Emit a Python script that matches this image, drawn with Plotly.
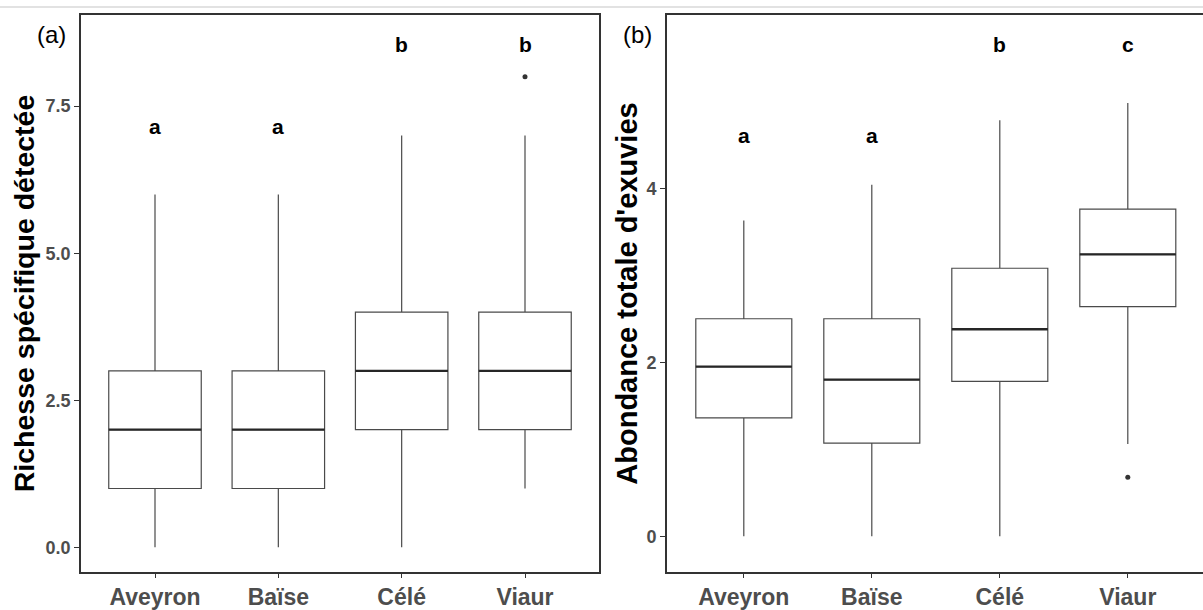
import plotly.graph_objects as go

# ---------------- data ----------------
categories = ["Aveyron", "Baïse", "Célé", "Viaur"]

# Panel (a): Richesse spécifique détectée
a_low = [0, 0, 0, 1]
a_q1 = [1, 1, 2, 2]
a_med = [2, 2, 3, 3]
a_q3 = [3, 3, 4, 4]
a_high = [6, 6, 7, 7]
a_out_cat = ["Viaur"]
a_out_val = [8.0]
a_letters = ["a", "a", "b", "b"]
a_letter_y = [7.15, 7.15, 8.55, 8.55]

# Panel (b): Abondance totale d'exuvies
b_low = [0, 0, 0, 1.06]
b_q1 = [1.36, 1.07, 1.78, 2.64]
b_med = [1.95, 1.80, 2.38, 3.24]
b_q3 = [2.50, 2.50, 3.08, 3.76]
b_high = [3.63, 4.04, 4.78, 4.98]
b_out_cat = ["Viaur"]
b_out_val = [0.68]
b_letters = ["a", "a", "b", "c"]
b_letter_y = [4.6, 4.6, 5.65, 5.65]

a_ticks = [0, 2.5, 5.0, 7.5]
b_ticks = [0, 2, 4]

# ---------------- style ----------------
FONT = "Liberation Sans, Arial, sans-serif"
BOX_W = 0.75
LINE_C = "#4a4a4a"
MED_C = "#262626"
AX_C = "#333333"
TICK_C = "#4d4d4d"

pos = [i + 1 for i in range(len(categories))]
cat_pos = dict(zip(categories, pos))

W, H = 1203, 610
ML, MR, MT, MB = 0, 0, 15, 32
PH = H - MT - MB
PW = W - ML - MR


def px_x(v):
    return (v - ML) / PW


def px_y(v):
    return (H - MB - v) / PH


fig = go.Figure()


def add_panel(xa, ya, low, q1, med, q3, high, out_cat, out_val):
    fig.add_trace(go.Box(
        x=pos, q1=q1, median=med, q3=q3, lowerfence=low, upperfence=high,
        width=BOX_W, whiskerwidth=0, fillcolor="white",
        line=dict(color=LINE_C, width=1.2), boxpoints=False,
        xaxis=xa, yaxis=ya, showlegend=False, hoverinfo="skip"))
    mx, my = [], []
    for p, m in zip(pos, med):
        mx += [p - BOX_W / 2, p + BOX_W / 2, None]
        my += [m, m, None]
    fig.add_trace(go.Scatter(x=mx, y=my, mode="lines",
                             line=dict(color=MED_C, width=2.4),
                             xaxis=xa, yaxis=ya, showlegend=False,
                             hoverinfo="skip"))
    fig.add_trace(go.Scatter(x=[cat_pos[c] for c in out_cat], y=out_val,
                             mode="markers",
                             marker=dict(color="#333333", size=5),
                             xaxis=xa, yaxis=ya, showlegend=False,
                             hoverinfo="skip"))


add_panel("x", "y", a_low, a_q1, a_med, a_q3, a_high, a_out_cat, a_out_val)
add_panel("x2", "y2", b_low, b_q1, b_med, b_q3, b_high, b_out_cat, b_out_val)

# significance letters
for xref, yref, letters, ly in (("x", "y", a_letters, a_letter_y),
                                ("x2", "y2", b_letters, b_letter_y)):
    for p, t, yv in zip(pos, letters, ly):
        fig.add_annotation(x=p, y=yv, xref=xref, yref=yref, text=t,
                           showarrow=False, xanchor="center", yanchor="middle",
                           font=dict(family=FONT, size=21, color="black",
                                     weight="bold"))

# panel tags
for tag, tx, ty in (("(a)", 51, 35), ("(b)", 637, 35)):
    fig.add_annotation(x=px_x(tx), y=px_y(ty), xref="paper", yref="paper",
                       text=tag, showarrow=False, xanchor="center",
                       yanchor="middle",
                       font=dict(family=FONT, size=24, color="black"))

# light separator line at the very top
fig.add_shape(type="line", xref="paper", yref="paper",
              x0=0, x1=1, y0=px_y(7), y1=px_y(7),
              line=dict(color="#d9d9d9", width=1.5))

xcommon = dict(tickmode="array", tickvals=pos, ticktext=categories,
               ticks="outside", ticklen=4, tickcolor=AX_C, tickwidth=1,
               showline=True, linecolor=AX_C, linewidth=1.6, mirror=True,
               showgrid=False, zeroline=False,
               tickfont=dict(family=FONT, size=23, color=TICK_C, weight="bold"))
ycommon = dict(ticks="outside", ticklen=5, tickcolor=AX_C, tickwidth=1,
               showline=True, linecolor=AX_C, linewidth=1.6,
               showgrid=False, zeroline=False,
               tickfont=dict(family=FONT, size=18, color=TICK_C, weight="bold"))

fig.update_layout(
    width=W, height=H,
    margin=dict(l=ML, r=MR, t=MT, b=MB),
    plot_bgcolor="white", paper_bgcolor="white",
    font=dict(family=FONT),
    xaxis=dict(domain=[px_x(81), px_x(599)], range=[0.4, 4.6], **xcommon),
    xaxis2=dict(domain=[px_x(667), 1.0], range=[0.4, 0.4 + 536 / 128],
                anchor="y2", **xcommon),
    yaxis=dict(range=[-0.42, 9.05], tickmode="array", tickvals=a_ticks,
               ticktext=[f"{v:.1f}" for v in a_ticks], mirror=True,
               title=dict(text="Richesse spécifique détectée", standoff=3,
                          font=dict(family=FONT, size=28.5, color="black",
                                    weight="bold")),
               **ycommon),
    yaxis2=dict(range=[-0.41, 5.99], tickmode="array", tickvals=b_ticks,
                ticktext=[str(v) for v in b_ticks], anchor="x2", mirror=False,
                title=dict(text="Abondance totale d'exuvies", standoff=0,
                           font=dict(family=FONT, size=29, color="black",
                                     weight="bold")),
                **ycommon),
)

fig.write_html("out.html")
